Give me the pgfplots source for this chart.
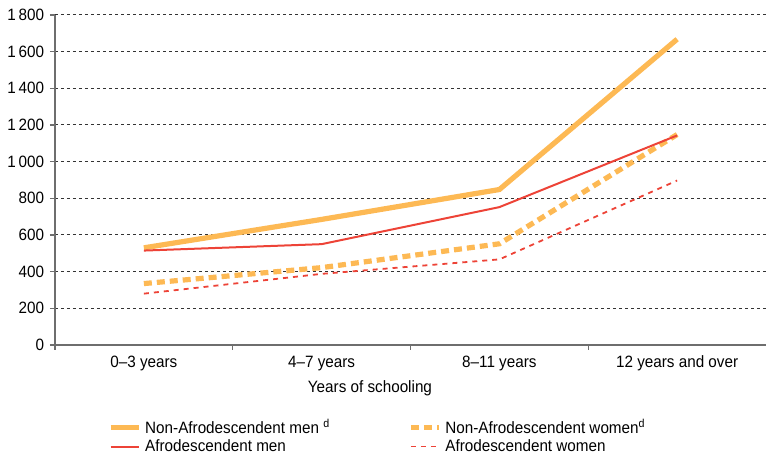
\documentclass[border=0pt]{standalone}
\usepackage{fontspec}
\setmainfont{Liberation Sans}[FakeStretch=0.93]
\usepackage{pgfplots}
\pgfplotsset{compat=1.18}
\definecolor{corange}{RGB}{253,185,84}
\definecolor{cred}{RGB}{237,67,55}
\definecolor{axgray}{RGB}{110,110,110}
\begin{document}
\fontsize{8.2}{9.8}\selectfont
\begin{tikzpicture}
\path[use as bounding box] (0,0) rectangle (383pt,226.5pt);
\begin{axis}[
  at={(27.5pt,54pt)}, anchor=south west,
  scale only axis, width=355.5pt, height=165pt,
  xmin=-0.5, xmax=3.5, ymin=0, ymax=1800,
  axis lines=left,
  axis line style={-, draw=axgray, line width=0.8pt},
  /pgf/number format/assume math mode=true,
  /pgf/number format/1000 sep={\,},
  ytick={0,200,...,1800},
  xtick={-0.5,0.5,1.5,2.5},
  xticklabels={},
  extra x ticks={0,1,2,3},
  extra x tick labels={0--3 years, 4--7 years, 8--11 years, 12 years and over},
  extra x tick style={major tick length=0pt, tick label style={yshift=-2.5pt}},
  tick align=outside,
  major tick length=2.5pt,
  tick style={draw=axgray, line width=0.6pt},
  ymajorgrids,
  major grid style={black!80, line width=0.5pt, dash pattern=on 1.5pt off 1.5pt},
  xlabel={Years of schooling},
  xlabel style={at={(axis description cs:0.443,-0.13)}, anchor=center},
  legend columns=2,
  legend cell align=left,
  legend style={draw=none, fill=none, inner sep=0pt, anchor=north west,
    at={(axis description cs:0.074,-0.212)},
    row sep=-2.2pt,
    /tikz/every even column/.append style={column sep=37pt}},
  legend image code/.code={\draw[#1] (0pt,0pt) -- (14pt,0pt);},
]
\addplot[corange, line width=2.6pt] coordinates {(0,530)(1,685)(2,848)(3,1668)};
\addlegendentry{Non-Afrodescendent men \textsuperscript{d}}
\addplot[corange, line width=2.6pt, dash pattern=on 4pt off 2.5pt] coordinates {(0,335)(1,422)(2,552)(3,1148)};
\addlegendentry{Non-Afrodescendent women\textsuperscript{d}}
\addplot[cred, line width=1pt] coordinates {(0,515)(1,550)(2,752)(3,1143)};
\addlegendentry{Afrodescendent men}
\addplot[cred, line width=0.9pt, dash pattern=on 2.5pt off 2.5pt] coordinates {(0,280)(1,388)(2,467)(3,897)};
\addlegendentry{Afrodescendent women}
\end{axis}
\end{tikzpicture}
\end{document}
